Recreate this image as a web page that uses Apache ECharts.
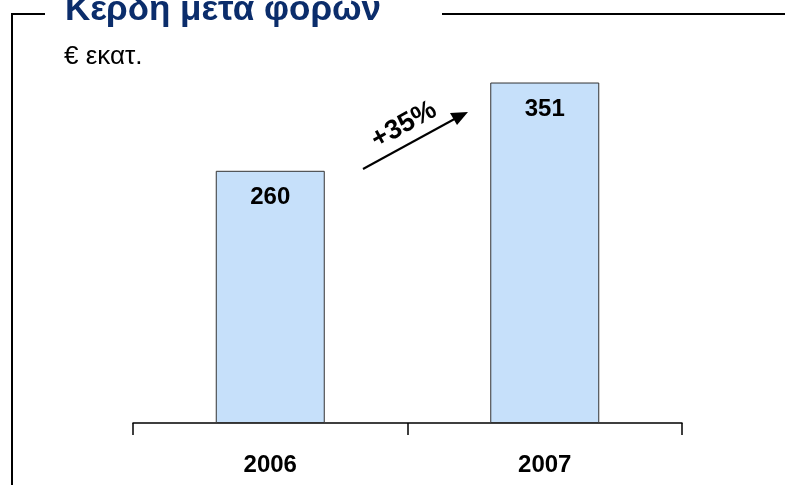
<!DOCTYPE html>
<html>
<head>
<meta charset="utf-8">
<script src="https://cdn.jsdelivr.net/npm/echarts@6/dist/echarts.min.js"></script>
<style>
  html, body { margin: 0; padding: 0; background: #fff; }
  #chart { width: 785px; height: 485px; }
</style>
</head>
<body>
<div id="chart"></div>
<script>
// data
var years = ['2006', '2007'];
var profit = [260, 351];
var growthLabel = '+35%';

var chart = echarts.init(document.getElementById('chart'));

var option = {
  animation: false,
  backgroundColor: '#ffffff',
  grid: {
    left: 133,
    right: 103,
    top: 35,
    bottom: 62
  },
  xAxis: {
    type: 'category',
    data: years,
    boundaryGap: true,
    axisLine: { show: true, lineStyle: { color: '#000', width: 1.5 } },
    axisTick: { show: true, length: 12, lineStyle: { color: '#000', width: 1.5 } },
    axisLabel: {
      margin: 30,
      color: '#000',
      fontSize: 24,
      fontWeight: 'bold',
      fontFamily: 'Liberation Sans'
    }
  },
  yAxis: {
    type: 'value',
    min: 0,
    max: 400,
    show: false,
    splitLine: { show: false }
  },
  series: [{
    type: 'bar',
    data: profit,
    barWidth: 109,
    itemStyle: {
      color: '#c6e0fa',
      borderColor: '#333',
      borderWidth: 1
    },
    label: {
      show: true,
      position: 'insideTop',
      distance: 15,
      color: '#000',
      fontSize: 24,
      fontWeight: 'bold',
      fontFamily: 'Liberation Sans'
    }
  }],
  graphic: [
    // frame
    { type: 'line', shape: { x1: 11, y1: 14, x2: 45, y2: 14 }, style: { stroke: '#000', lineWidth: 2 } },
    { type: 'line', shape: { x1: 442, y1: 14, x2: 785, y2: 14 }, style: { stroke: '#000', lineWidth: 2 } },
    { type: 'line', shape: { x1: 12, y1: 13, x2: 12, y2: 485 }, style: { stroke: '#000', lineWidth: 2 } },
    // title
    {
      type: 'text', left: 65, top: -7,
      style: {
        text: 'Κέρδη μετά φόρων',
        fill: '#0b2d6b',
        font: 'bold 35px "Liberation Sans", Arial, sans-serif'
      }
    },
    {
      type: 'text', left: 64, top: 44,
      style: {
        text: '€ εκατ.',
        fill: '#000',
        font: '26px "Liberation Sans", Arial, sans-serif'
      }
    },
    // growth arrow
    {
      type: 'line',
      shape: { x1: 363, y1: 169, x2: 460, y2: 116 },
      style: { stroke: '#000', lineWidth: 2 }
    },
    {
      type: 'polygon',
      shape: { points: [[468, 112], [450, 113], [457, 125]] },
      style: { fill: '#000' }
    },
    {
      type: 'text',
      x: 404, y: 125,
      rotation: 29 * Math.PI / 180,
      style: {
        text: growthLabel,
        fill: '#000',
        font: 'bold 27px "Liberation Sans", Arial, sans-serif',
        align: 'center',
        verticalAlign: 'middle'
      }
    }
  ]
};

chart.setOption(option);
</script>
</body>
</html>
